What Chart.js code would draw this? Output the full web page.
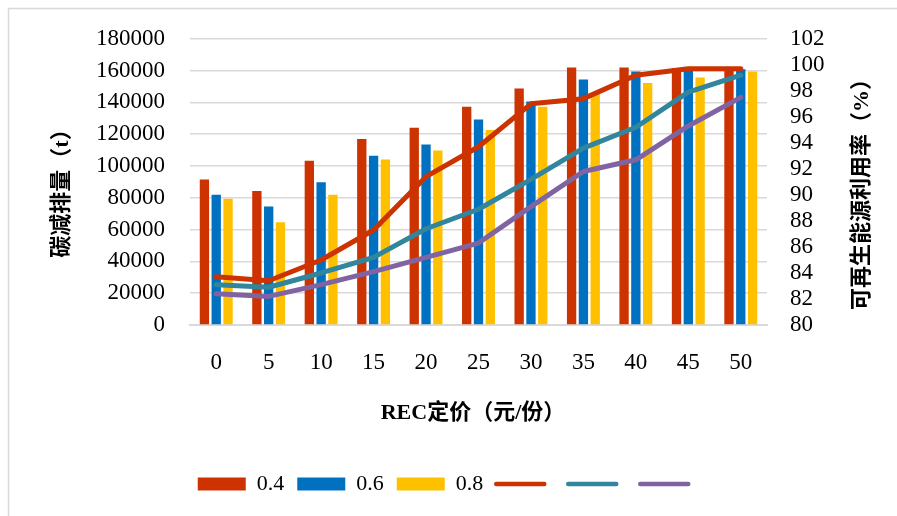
<!DOCTYPE html>
<html>
<head>
<meta charset="utf-8">
<script src="https://cdn.jsdelivr.net/npm/chart.js@4/dist/chart.umd.min.js"></script>
<style>
  html, body { margin: 0; padding: 0; background: #fff; }
  #wrap { width: 897px; height: 516px; position: relative; }
</style>
</head>
<body>
<div id="wrap"><canvas id="myChart" width="897" height="516"></canvas></div>
<script>
// REC price (yuan per certificate)
var prices = ['0', '5', '10', '15', '20', '25', '30', '35', '40', '45', '50'];

// carbon reduction (t), one series per share
var cut04 = [91500, 84200, 103300, 117000, 124100, 137300, 148800, 162000, 162000, 161500, 161000];
var cut06 = [81900, 74600, 89800, 106400, 113500, 129200, 140600, 154400, 159400, 160300, 160900];
var cut08 = [79400, 64600, 81900, 104100, 109700, 122700, 137300, 145300, 152200, 155700, 159400];

// renewable energy utilisation (%)
var use04 = [83.7, 83.4, 85.0, 87.3, 91.4, 93.7, 97.0, 97.4, 99.2, 99.7, 99.7];
var use06 = [83.1, 82.9, 84.0, 85.2, 87.4, 88.9, 91.2, 93.6, 95.2, 97.9, 99.2];
var use08 = [82.4, 82.2, 83.1, 84.1, 85.2, 86.3, 89.1, 91.8, 92.7, 95.3, 97.5];

var shareLabels = ['0.4', '0.6', '0.8'];

var red = '#CC3300';
var blue = '#0070C0';
var yellow = '#FFC000';
var teal = '#31859C';
var purple = '#8064A2';

var serif = "'Liberation Serif', 'Times New Roman', serif";
var titleFont = "bold 22px 'Liberation Serif', 'Noto Sans CJK SC', sans-serif";
var bottomPad = 11;

function barSet(label, data, color) {
    return {
        type: 'bar',
        label: label,
        data: data,
        backgroundColor: color,
        yAxisID: 'y',
        order: 2,
        barPercentage: 0.79,
        categoryPercentage: 0.675
    };
}

function lineSet(data, color) {
    return {
        type: 'line',
        label: '',
        data: data,
        borderColor: color,
        backgroundColor: color,
        borderWidth: 5,
        pointRadius: 0,
        tension: 0,
        borderCapStyle: 'round',
        borderJoinStyle: 'round',
        yAxisID: 'y1',
        order: 1,
        fill: false
    };
}

// frame and axis titles drawn straight on the canvas
var extras = {
    id: 'extras',
    beforeDraw: function (chart) {
        var c = chart.ctx;
        c.save();
        c.strokeStyle = '#d9d9d9';
        c.lineWidth = 1.5;
        c.beginPath();
        c.moveTo(8.5, 516);
        c.lineTo(8.5, 8.5);
        c.lineTo(897, 8.5);
        c.stroke();
        c.restore();
    },
    afterDraw: function (chart) {
        var c = chart.ctx;
        c.save();
        c.fillStyle = '#000';
        c.font = titleFont;
        c.textAlign = 'center';
        c.textBaseline = 'middle';

        c.save();
        c.translate(62, 188);
        c.rotate(-Math.PI / 2);
        c.fillText('碳减排量（t）', 0, 0);
        c.restore();

        c.save();
        c.translate(862, 189);
        c.rotate(-Math.PI / 2);
        c.fillText('可再生能源利用率（%）', 0, 0);
        c.restore();

        c.fillText('REC定价（元/份）', 473, 413);
        c.restore();
    }
};

var ctx = document.getElementById('myChart').getContext('2d');
var myChart = new Chart(ctx, {
    data: {
        labels: prices,
        datasets: [
            barSet(shareLabels[0], cut04, red),
            barSet(shareLabels[1], cut06, blue),
            barSet(shareLabels[2], cut08, yellow),
            lineSet(use04, red),
            lineSet(use06, teal),
            lineSet(use08, purple)
        ]
    },
    options: {
        responsive: false,
        animation: false,
        layout: { padding: { top: 37, left: 0, right: 0, bottom: bottomPad } },
        plugins: {
            tooltip: { enabled: false },
            legend: {
                position: 'bottom',
                labels: {
                    usePointStyle: true,
                    pointStyleWidth: 48,
                    boxHeight: 13,
                    padding: 13,
                    color: '#000',
                    font: { family: serif, size: 22 },
                    generateLabels: function (chart) {
                        return chart.data.datasets.map(function (ds, i) {
                            var isLine = ds.type === 'line';
                            return {
                                text: ds.label,
                                fillStyle: ds.backgroundColor,
                                strokeStyle: isLine ? ds.borderColor : ds.backgroundColor,
                                lineWidth: isLine ? 4.5 : 0,
                                lineCap: 'round',
                                pointStyle: isLine ? 'line' : 'rect',
                                fontColor: '#000',
                                hidden: false,
                                datasetIndex: i
                            };
                        });
                    }
                }
            }
        },
        scales: {
            x: {
                grid: { display: false, drawTicks: false },
                border: { display: true, color: '#d9d9d9', width: 2 },
                ticks: { color: '#000', padding: 24, font: { family: serif, size: 23 } },
                afterFit: function (scale) {
                    var lg = scale.chart.legend ? scale.chart.legend.height : 0;
                    scale.height = 516 - 325 - lg - bottomPad;
                }
            },
            y: {
                position: 'left',
                min: 0,
                max: 180000,
                grid: { color: '#d9d9d9', lineWidth: 1.5, drawTicks: false },
                border: { display: false },
                ticks: {
                    stepSize: 20000,
                    autoSkip: false,
                    color: '#000',
                    padding: 25,
                    font: { family: serif, size: 23 },
                    callback: function (v) { return String(v); }
                },
                afterFit: function (scale) { scale.width = 190; }
            },
            y1: {
                position: 'right',
                min: 80,
                max: 102,
                grid: { display: false, drawTicks: false },
                border: { display: false },
                ticks: {
                    stepSize: 2,
                    autoSkip: false,
                    color: '#000',
                    padding: 23,
                    font: { family: serif, size: 23 },
                    callback: function (v) { return String(v); }
                },
                afterFit: function (scale) { scale.width = 130; }
            }
        }
    },
    plugins: [extras]
});
</script>
</body>
</html>
